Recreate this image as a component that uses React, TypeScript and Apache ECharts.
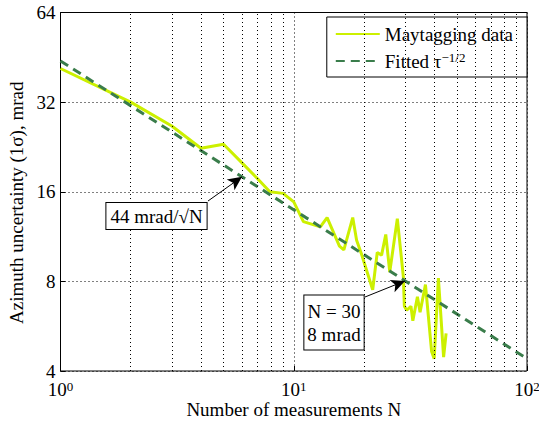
import React, { useEffect, useRef } from "react";
import * as echarts from "echarts";

// Maytagging data: number of measurements N and azimuth uncertainty (mrad)
const measN = [1, 2, 3, 4, 5, 6, 6.95, 7.9, 9, 10, 11, 13, 13.9, 15.7, 16.4, 17.9, 18.6, 19.5, 21.8, 22.8, 23.8, 24.8, 25.8, 27.8, 29.5, 29.8, 30.5, 31.8, 32.4, 33.9, 34.8, 36.7, 39, 40, 41.7, 43.9, 45];
const measV = [41.5, 32, 26.6, 22.4, 23.1, 20, 17.8, 16.0, 15.8, 14.8, 12.7, 12.2, 13.1, 10.5, 10.2, 13.1, 11.0, 9.9, 7.5, 10.0, 9.8, 11.5, 8.6, 13.0, 8.3, 6.6, 6.4, 6.6, 5.9, 7.1, 6.3, 7.8, 4.65, 4.4, 8.2, 4.45, 5.35];

// Fitted tau^-1/2 line (end points)
const fitN = [1, 100];
const fitV = [44, 4.4];

// Minor grid positions on the log x axis
const minorGridX = [2, 3, 4, 5, 6, 7, 8, 9, 20, 30, 40, 50, 60, 70, 80, 90];

// Annotation anchor points (N, mrad)
const note1Point = [6, 17.96];
const note2Point = [30, 8.03];

const FONT = "Liberation Serif";
const FS = 19;
const YELLOW = "#ccf000";
const GREEN = "#3a7d4b";

export default function App() {
  const ref = useRef<HTMLDivElement>(null);
  useEffect(() => {
    if (!ref.current) return;
    const chart = echarts.init(ref.current, undefined, { renderer: "svg" });
    const dotted = { color: "#000", width: 1, type: [1, 3] as any };
    chart.setOption({
      animation: false,
      backgroundColor: "#fff",
      textStyle: { fontFamily: FONT },
      grid: {
        left: 60.5,
        right: 12,
        top: 12.5,
        bottom: 52,
        containLabel: false,
        outerBoundsMode: "none",
        show: true,
        borderColor: "#000",
        borderWidth: 1,
      },
      legend: {
        orient: "vertical",
        right: 12,
        top: 17,
        data: ["Maytagging data", "Fitted"],
        backgroundColor: "#fff",
        borderColor: "#000",
        borderWidth: 1,
        borderRadius: 0,
        padding: [8, 14, 6, 8],
        itemWidth: 44,
        itemHeight: 14,
        itemGap: 7,
        itemStyle: { opacity: 0 },
        formatter: (name: string) =>
          name === "Fitted" ? "{a|Fitted τ}{s|−1/2}" : "{a|" + name + "}",
        textStyle: {
          color: "#000",
          fontFamily: FONT,
          fontSize: FS,
          rich: {
            a: { fontSize: FS, fontFamily: FONT, color: "#000", verticalAlign: "bottom", lineHeight: 20 },
            s: { fontSize: 13, fontFamily: FONT, color: "#000", verticalAlign: "top", lineHeight: 20 },
          },
        },
      },
      xAxis: {
        type: "log",
        logBase: 10,
        min: 1,
        max: 100,
        name: "Number of measurements N",
        nameLocation: "middle",
        nameGap: 28,
        nameMoveOverlap: false,
        nameTextStyle: { fontFamily: FONT, fontSize: FS, color: "#000", verticalAlign: "top", lineHeight: 20 },
        axisLine: { show: false },
        axisTick: { show: true, inside: true, length: 5, lineStyle: { color: "#000" } },
        splitLine: { show: true, lineStyle: dotted },
        axisLabel: {
          margin: 9,
          color: "#000",
          formatter: (v: number) => "{b|10}{s|" + Math.round(Math.log10(v)) + "}",
          rich: {
            b: { fontSize: FS, fontFamily: FONT, color: "#000", verticalAlign: "bottom", lineHeight: 19 },
            s: { fontSize: 13, fontFamily: FONT, color: "#000", verticalAlign: "top", lineHeight: 19 },
          },
        },
      },
      yAxis: {
        type: "log",
        logBase: 2,
        min: 4,
        max: 64,
        name: "Azimuth uncertainty (1σ), mrad",
        nameLocation: "middle",
        nameGap: 33,
        nameRotate: 90,
        nameTextStyle: { fontFamily: FONT, fontSize: FS, color: "#000", padding: [0, 22, 0, 0] },
        axisLine: { show: false },
        axisTick: { show: true, inside: true, length: 5, lineStyle: { color: "#000" } },
        splitLine: { show: true, lineStyle: dotted },
        axisLabel: {
          margin: 5,
          color: "#000",
          fontFamily: FONT,
          fontSize: FS,
          lineHeight: 12,
          formatter: (v: number) => String(Math.round(v)),
        },
      },
      series: [
        {
          name: "grid-minor",
          type: "line",
          data: [],
          z: 1,
          silent: true,
          markLine: {
            silent: true,
            symbol: ["none", "none"],
            label: { show: false },
            lineStyle: dotted,
            data: minorGridX.map((v) => ({ xAxis: v })),
          },
        },
        {
          name: "Maytagging data",
          type: "line",
          data: measN.map((n, i) => [n, measV[i]]),
          showSymbol: false,
          symbol: "none",
          lineStyle: { color: YELLOW, width: 3 },
          itemStyle: { color: YELLOW },
          z: 3,
        },
        {
          name: "Fitted",
          type: "line",
          data: fitN.map((n, i) => [n, fitV[i]]),
          showSymbol: false,
          symbol: "none",
          lineStyle: { color: GREEN, width: 3, type: [9, 6] },
          itemStyle: { color: GREEN },
          z: 4,
        },
        {
          name: "arrows",
          type: "line",
          data: [],
          z: 5,
          silent: true,
          markLine: {
            silent: true,
            symbol: ["none", "arrow"],
            symbolSize: [10, 14],
            label: { show: false },
            lineStyle: { color: "#000", width: 1, type: "solid" },
            data: [
              [{ x: 208, y: 201 }, { coord: note1Point }],
              [{ x: 365, y: 297 }, { coord: note2Point }],
            ],
          },
        },
      ],
      graphic: [
        {
          type: "text",
          x: 156.5,
          y: 216,
          z: 10,
          style: {
            text: "44 mrad/√N",
            font: FS + "px " + FONT,
            fill: "#000",
            align: "center",
            verticalAlign: "middle",
            backgroundColor: "#fff",
            borderColor: "#000",
            borderWidth: 1,
            padding: [4, 4, 3, 4],
          },
        },
        {
          type: "text",
          x: 334,
          y: 322.5,
          z: 10,
          style: {
            text: "N = 30\n8 mrad",
            font: FS + "px " + FONT,
            fill: "#000",
            align: "center",
            verticalAlign: "middle",
            lineHeight: 23,
            backgroundColor: "#fff",
            borderColor: "#000",
            borderWidth: 1,
            padding: [4, 3, 4, 3],
          },
        },
      ],
    });
    return () => chart.dispose();
  }, []);
  return (
    <div
      ref={ref}
      style={{ position: "absolute", left: 0, top: 0, width: 539, height: 423, background: "#fff" }}
    />
  );
}
